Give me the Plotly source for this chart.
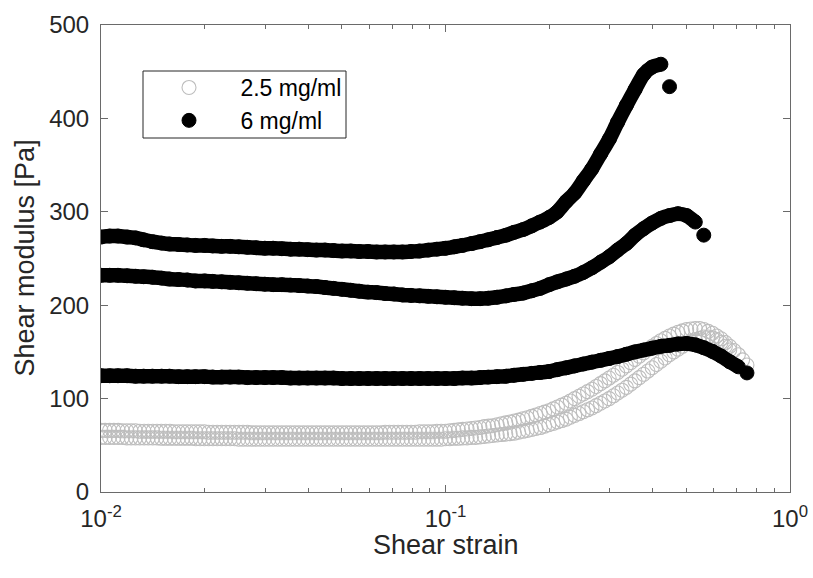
import plotly.graph_objects as go

# ---- data ----
# strain grid used for the 6 mg/ml curves (40 points per decade)
strain = [0.0100, 0.0106, 0.0112, 0.0119, 0.0126, 0.0133, 0.0141, 0.0150, 0.0158, 0.0168,
          0.0178, 0.0188, 0.0200, 0.0211, 0.0224, 0.0237, 0.0251, 0.0266, 0.0282, 0.0299,
          0.0316, 0.0335, 0.0355, 0.0376, 0.0398, 0.0422, 0.0447, 0.0473, 0.0501, 0.0531,
          0.0562, 0.0596, 0.0631, 0.0668, 0.0708, 0.0750, 0.0794, 0.0841, 0.0891, 0.0944,
          0.100, 0.106, 0.112, 0.119, 0.126, 0.133, 0.141, 0.150, 0.158, 0.168,
          0.178, 0.188, 0.200, 0.211, 0.224, 0.237, 0.251, 0.266, 0.282, 0.299,
          0.316, 0.335, 0.355, 0.376, 0.398, 0.422, 0.447, 0.473, 0.501, 0.531,
          0.562, 0.596, 0.631, 0.668, 0.708, 0.750]

# strain grid used for the 2.5 mg/ml curves (80 points per decade)
strain_fine = [0.01000, 0.01029, 0.01059, 0.01090, 0.01122, 0.01155, 0.01189, 0.01223, 0.01259, 0.01296,
               0.01334, 0.01372, 0.01413, 0.01454, 0.01496, 0.01540, 0.01585, 0.01631, 0.01679, 0.01728,
               0.01778, 0.01830, 0.01884, 0.01939, 0.01995, 0.02054, 0.02113, 0.02175, 0.02239, 0.02304,
               0.02371, 0.02441, 0.02512, 0.02585, 0.02661, 0.02738, 0.02818, 0.02901, 0.02985, 0.03073,
               0.03162, 0.03255, 0.03350, 0.03447, 0.03548, 0.03652, 0.03758, 0.03868, 0.03981, 0.04097,
               0.04217, 0.04340, 0.04467, 0.04597, 0.04732, 0.04870, 0.05012, 0.05158, 0.05309, 0.05464,
               0.05623, 0.05788, 0.05957, 0.06131, 0.06310, 0.06494, 0.06683, 0.06879, 0.07079, 0.07286,
               0.07499, 0.07718, 0.07943, 0.08175, 0.08414, 0.08660, 0.08913, 0.09173, 0.09441, 0.09716,
               0.1000, 0.1029, 0.1059, 0.1090, 0.1122, 0.1155, 0.1189, 0.1223, 0.1259, 0.1296,
               0.1334, 0.1372, 0.1413, 0.1454, 0.1496, 0.1540, 0.1585, 0.1631, 0.1679, 0.1728,
               0.1778, 0.1830, 0.1884, 0.1939, 0.1995, 0.2054, 0.2113, 0.2175, 0.2239, 0.2304,
               0.2371, 0.2441, 0.2512, 0.2585, 0.2661, 0.2738, 0.2818, 0.2901, 0.2985, 0.3073,
               0.3162, 0.3255, 0.3350, 0.3447, 0.3548, 0.3652, 0.3758, 0.3868, 0.3981, 0.4097,
               0.4217, 0.4340, 0.4467, 0.4597, 0.4732, 0.4870, 0.5012, 0.5158, 0.5309, 0.5464,
               0.5623, 0.5788, 0.5957, 0.6131, 0.6310, 0.6494, 0.6683, 0.6879, 0.7079, 0.7286,
               0.7499]

# 2.5 mg/ml samples (open grey circles)
low_a = [66, 66, 66, 66, 66, 65.5, 65.5, 65.5, 65.5, 65,
         65, 65, 65, 65, 65, 65, 65, 64.5, 64.5, 64.5,
         64.5, 64.5, 64.5, 64.5, 64.5, 64, 64, 64, 64, 64,
         64, 64, 64, 64, 64, 63.5, 63.5, 63.5, 63.5, 63.5,
         63.5, 63.5, 63.5, 63.5, 63.5, 63.5, 63.5, 63.5, 63.5, 63.5,
         63.5, 63.5, 63.5, 63.5, 63.5, 63.5, 63.5, 63.5, 63.5, 63.5,
         63.5, 63.5, 63.5, 63.5, 63.5, 63.5, 64, 64, 64, 64,
         64, 64, 64, 64, 64.5, 64.5, 64.5, 64.5, 65, 65,
         65, 65.5, 66, 66.5, 67, 67.5, 68, 68.5, 69, 70,
         70.5, 71, 72, 73, 74, 75, 76, 77, 78.5, 79.5,
         81, 82.5, 84, 85.5, 87, 89, 91, 93, 95, 97.5,
         100, 102.5, 105, 107.5, 110, 113, 116, 119, 122, 125,
         128, 131.5, 135, 138.5, 142, 145.5, 149, 152.5, 156, 159,
         162, 164.5, 167, 169, 171, 172.5, 174, 174.5, 175, 175,
         174, 172, 170, 167, 164, 160, 156, 151.5, 147, 141.5,
         136]
low_b = [58.5, 58.5, 58.5, 58.5, 58.5, 58.5, 58, 58, 58, 58,
         58, 58, 58, 58, 57.5, 57.5, 57.5, 57.5, 57.5, 57.5,
         57.5, 57.5, 57, 57, 57, 57, 57, 57, 57, 57,
         57, 57, 56.5, 56.5, 56.5, 56.5, 56.5, 56.5, 56.5, 56.5,
         56.5, 56.5, 56.5, 56.5, 56.5, 56.5, 56.5, 56.5, 56.5, 56.5,
         56.5, 56.5, 56.5, 56.5, 56.5, 56.5, 56.5, 56.5, 56.5, 56.5,
         56.5, 56.5, 56.5, 56.5, 56.5, 56.5, 56.5, 56.5, 56.5, 56.5,
         56.5, 56.5, 56.5, 56.5, 56.5, 56.5, 56.5, 56.5, 56.5, 56.5,
         57, 57, 57.5, 57.5, 58, 58, 58.5, 58.5, 59, 59.5,
         60, 60.5, 61, 61.5, 62, 62.5, 63, 64, 65, 66,
         67, 68, 69, 70.5, 72, 73.5, 75, 76.5, 78, 80,
         82, 84, 86, 88, 90, 92.5, 95, 97.5, 100, 103,
         106, 109, 112, 115.5, 119, 122.5, 126, 129.5, 133, 136.5,
         140, 143.5, 147, 150, 153, 156, 159, 161, 163, 164.5,
         166, 166, 165, 163, 160, 156, 152]

# 6 mg/ml samples (filled black circles)
high_a = [273, 274, 274, 273, 272, 270, 268, 266.5, 265.5, 265,
          264.5, 264, 264, 263.5, 263, 263, 262.5, 262, 261.5, 261,
          261, 260.5, 260, 260, 259.5, 259, 259, 258.5, 258, 258,
          257.5, 257.5, 257, 257, 257, 257, 257.5, 258, 259, 260,
          261, 262.5, 264, 266, 268, 270, 272.5, 275, 278, 281,
          285, 289, 294, 300, 311, 320, 333, 346, 362, 378,
          396, 414, 431, 447, 455, 458, 434]
high_b = [232, 232, 232, 231.5, 231, 230.5, 230, 229, 228, 227.5,
          227, 226, 226, 225.5, 225, 224.5, 224, 223.5, 223, 222.5,
          222, 222, 221.5, 221, 220.5, 220, 219, 218, 217, 216,
          215, 214, 213.5, 212.5, 212, 211, 210.5, 210, 209.5, 209,
          208.5, 208, 207.5, 207, 207, 207.5, 208.5, 210, 211.5, 213,
          215.5, 218, 222, 225, 228, 231, 235, 240, 246, 252,
          259, 266, 275, 282, 288, 293, 296, 298, 296, 289,
          275]
high_c = [124.5, 124.5, 124.5, 124.5, 124, 124, 124, 124, 124, 123.5,
          123.5, 123.5, 123.5, 123, 123, 123, 123, 122.5, 122.5, 122.5,
          122.5, 122.5, 122, 122, 122, 122, 122, 122, 121.5, 121.5,
          121.5, 121.5, 121.5, 121.5, 121.5, 121.5, 121.5, 121.5, 121.5, 121.5,
          121.5, 121.5, 122, 122, 122.5, 123, 123.5, 124, 125, 126,
          127, 128, 129, 131, 133, 135, 137, 139, 141, 143,
          145, 147.5, 150, 152, 154, 156, 157, 158.5, 159, 157.5,
          154.5, 150.5, 145.5, 139.5, 134, 127.5]

series_names = ["2.5 mg/ml", "6 mg/ml"]
x_tick_vals = [0.01, 0.1, 1]
x_tick_text = ["10<sup>-2</sup>", "10<sup>-1</sup>", "10<sup>0</sup>"]
x_minor_vals = [0.02, 0.03, 0.04, 0.05, 0.06, 0.07, 0.08, 0.09,
                0.2, 0.3, 0.4, 0.5, 0.6, 0.7, 0.8, 0.9]
y_tick_vals = [0, 100, 200, 300, 400, 500]
x_title = "Shear strain"
y_title = "Shear modulus [Pa]"

# ---- styling ----
FONT = "Liberation Sans, Arial, Helvetica, sans-serif"
TEXT = "#262626"
AXIS = "#6a6a6a"
GREY = "#bdbdbd"
MSIZE = 14
BAND = 14.5
PAD = " "   # widens the gap between legend symbol and label

fig = go.Figure()

for i, yv in enumerate([low_a, low_b]):
    fig.add_trace(go.Scatter(
        x=strain_fine[:len(yv)], y=yv, mode="markers",
        name=PAD + series_names[0], showlegend=(i == 0), legendrank=1,
        marker=dict(symbol="circle-open", size=MSIZE, color=GREY,
                    line=dict(color=GREY, width=1.1)),
    ))

for i, yv in enumerate([high_a, high_b, high_c]):
    xs = strain[:len(yv)]
    # dense markers in the reference merge into a continuous band
    fig.add_trace(go.Scatter(
        x=xs[:-1], y=yv[:-1], mode="lines", showlegend=False, hoverinfo="skip",
        line=dict(color="black", width=BAND, shape="spline", smoothing=0.8),
    ))
    fig.add_trace(go.Scatter(
        x=xs, y=yv, mode="markers",
        name=PAD + series_names[1], showlegend=(i == 0), legendrank=2,
        marker=dict(symbol="circle", size=MSIZE, color="black",
                    line=dict(color="black", width=1)),
    ))

# plot area in pixels: x 101..790, y 25..492
L, R, T, B = 101, 790, 25, 492
W, H = 813, 578
pw, ph = R - L, B - T


def px(xp):
    return (xp - L) / pw


def py(yp):
    return (B - yp) / ph


fig.update_layout(
    width=W, height=H,
    margin=dict(l=L, r=W - R, t=T, b=H - B, autoexpand=False),
    paper_bgcolor="white", plot_bgcolor="white",
    font=dict(family=FONT, color=TEXT, size=24),
    showlegend=True,
    legend=dict(
        x=px(144), y=py(66), xanchor="left", yanchor="top",
        bgcolor="rgba(0,0,0,0)", borderwidth=0,
        font=dict(family=FONT, size=23, color="black"),
        itemwidth=80, tracegroupgap=0,
    ),
    shapes=[dict(type="rect", xref="paper", yref="paper",
                 x0=px(143), x1=px(346), y0=py(138), y1=py(71),
                 line=dict(color="#262626", width=1), fillcolor="white",
                 layer="above")],
    annotations=[
        dict(text=x_title, xref="paper", yref="paper", x=0.5, y=py(545),
             xanchor="center", yanchor="middle", showarrow=False,
             font=dict(family=FONT, size=27, color=TEXT)),
        dict(text=y_title, xref="paper", yref="paper", x=px(24), y=0.5,
             xanchor="center", yanchor="middle", showarrow=False, textangle=-90,
             font=dict(family=FONT, size=27, color=TEXT)),
    ],
)

fig.update_xaxes(
    type="log", range=[-2, 0],
    tickmode="array", tickvals=x_tick_vals, ticktext=x_tick_text,
    ticks="inside", ticklen=7, tickwidth=1, tickcolor=AXIS,
    showline=True, linecolor=AXIS, linewidth=1, mirror="ticks",
    showgrid=False, zeroline=False,
    tickfont=dict(family=FONT, size=24, color=TEXT),
    ticklabelstandoff=5,
    minor=dict(tickmode="array", tickvals=x_minor_vals, ticks="inside",
               ticklen=4, tickcolor=AXIS, showgrid=False),
)
fig.update_yaxes(
    range=[0, 500],
    tickmode="array", tickvals=y_tick_vals,
    ticks="inside", ticklen=7, tickwidth=1, tickcolor=AXIS,
    showline=True, linecolor=AXIS, linewidth=1, mirror="ticks",
    showgrid=False, zeroline=False,
    tickfont=dict(family=FONT, size=24, color=TEXT),
    ticklabelstandoff=6,
)

fig.write_html("out.html")
